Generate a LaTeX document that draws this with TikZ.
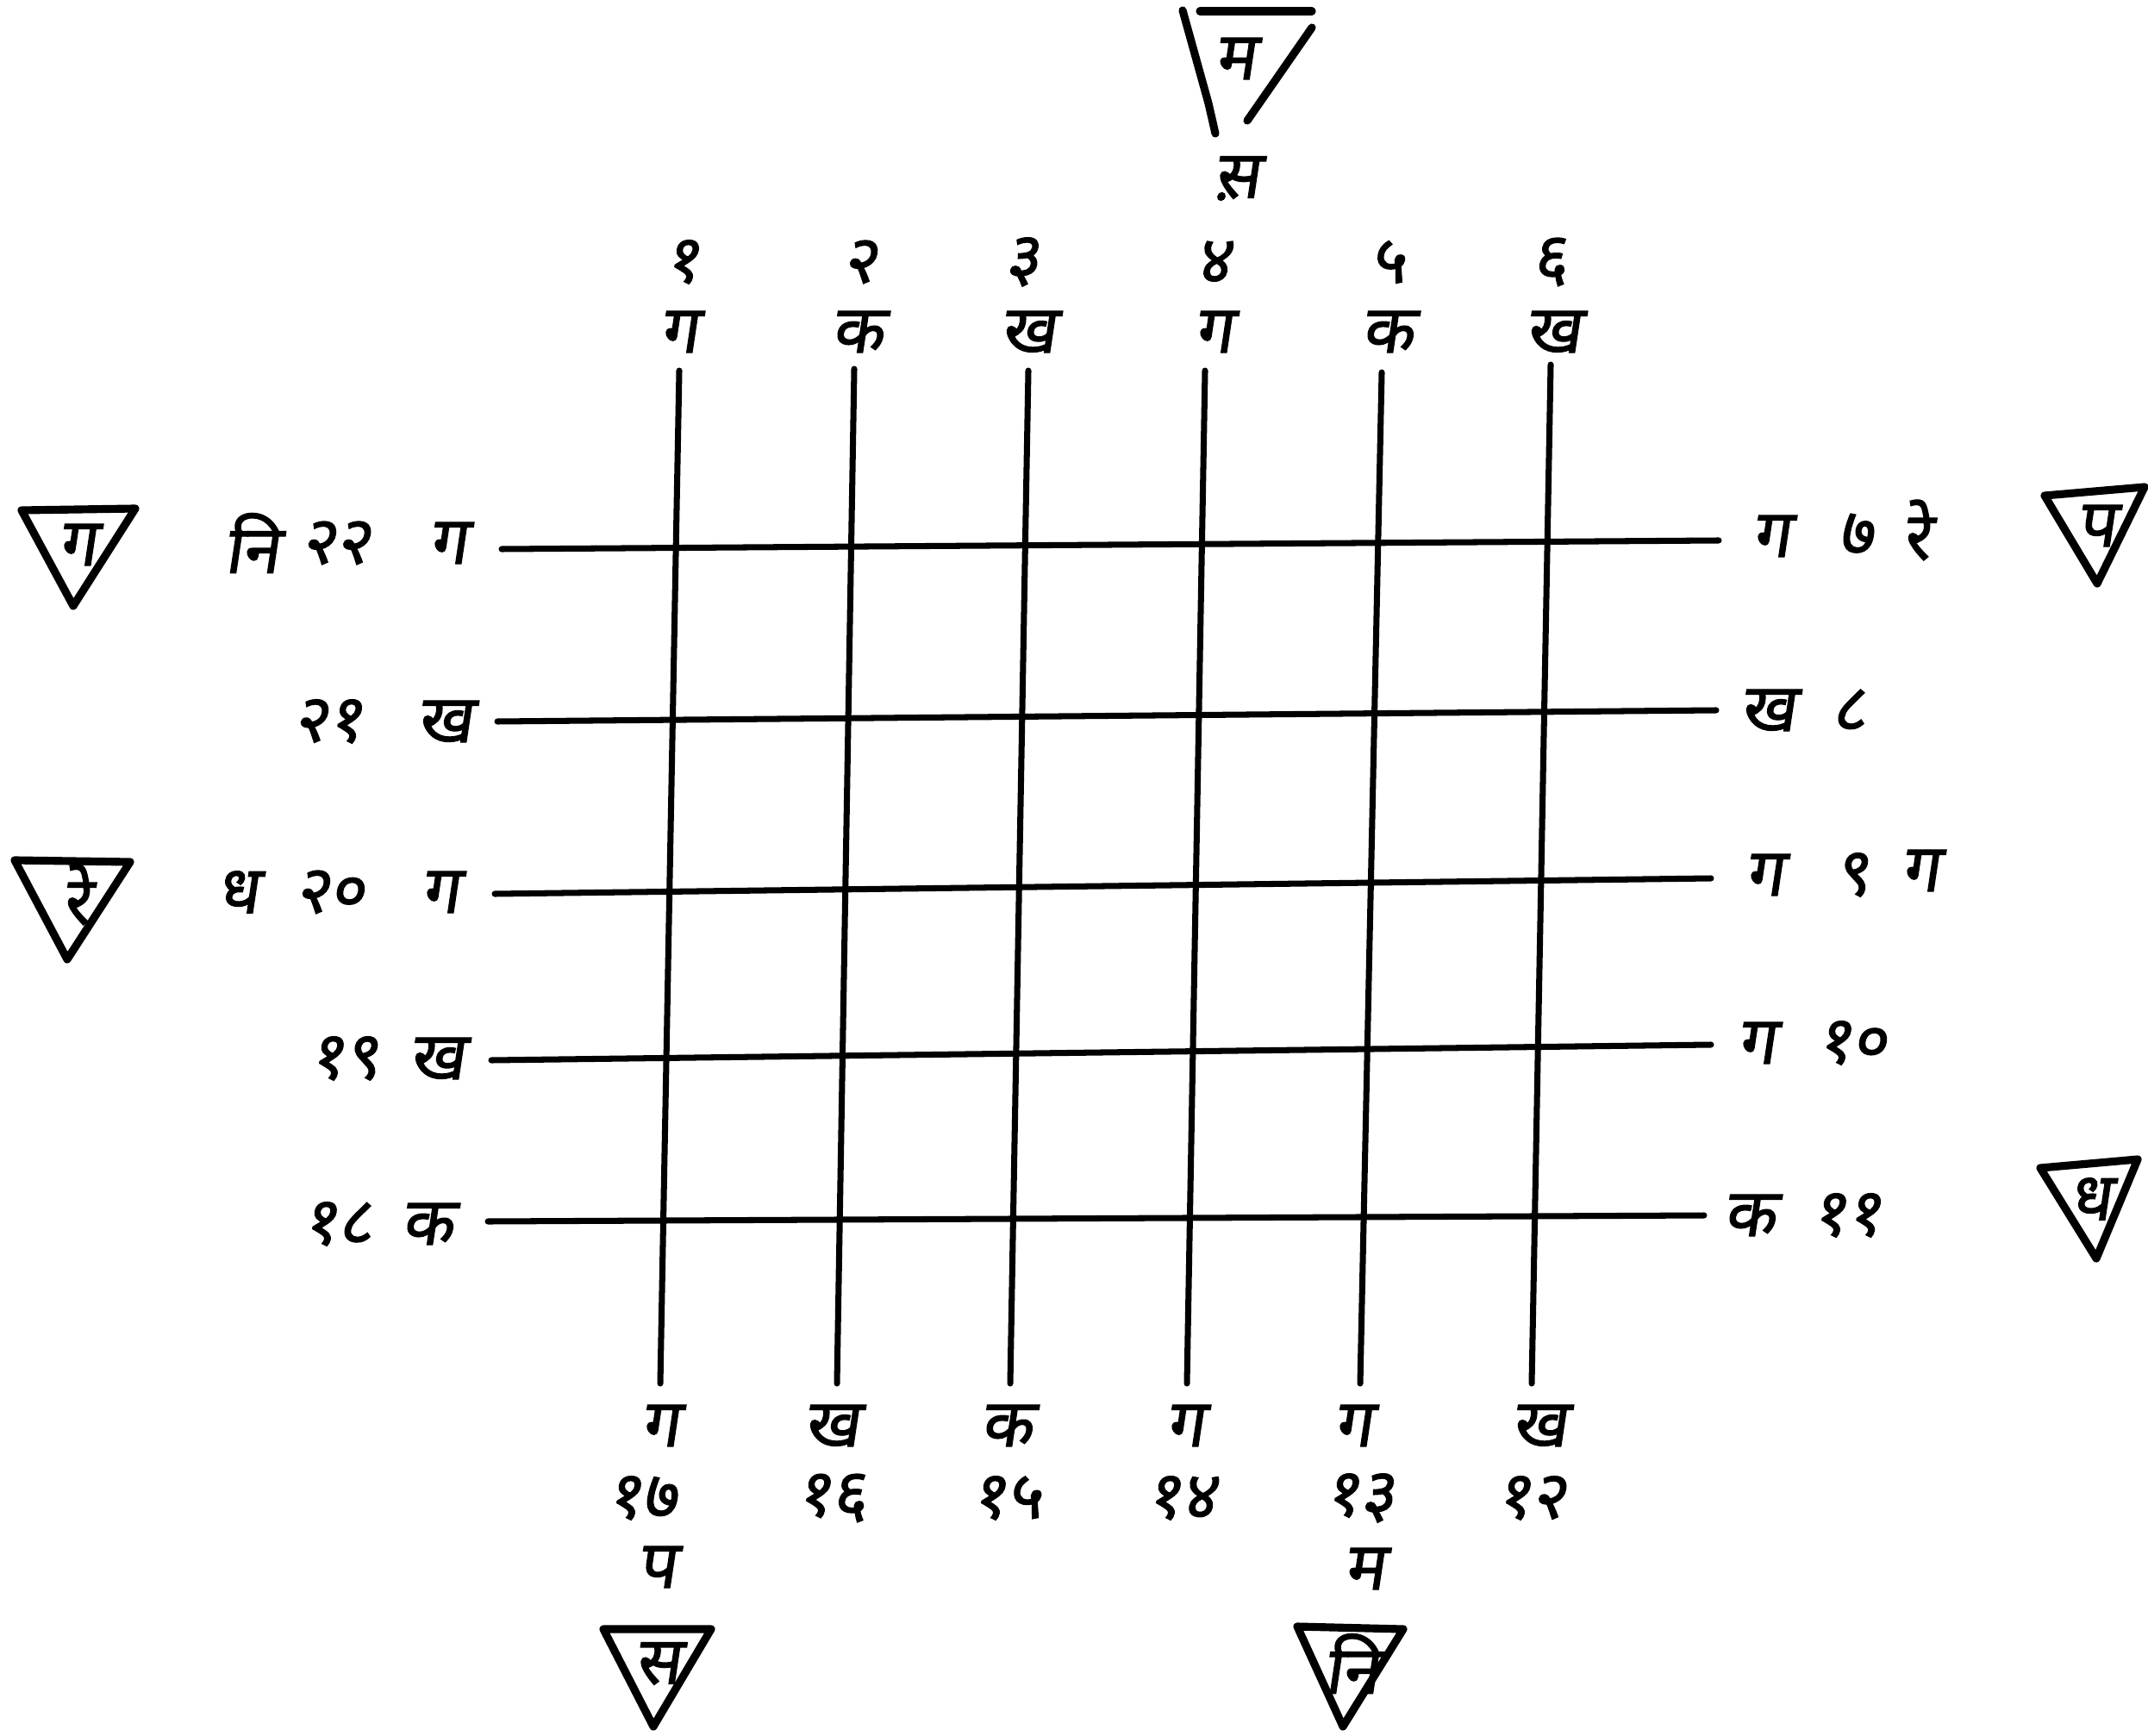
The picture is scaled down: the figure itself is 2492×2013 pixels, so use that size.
\documentclass[tikz,border=0pt]{standalone}
\usepackage{fontspec}
\newfontfamily\dev[Script=Devanagari,FakeSlant=0.15,FakeBold=1.6]{Noto Sans}
\begin{document}
\begin{tikzpicture}[x=0.01cm,y=-0.01cm,
  lbl/.style={font=\dev\fontsize{22}{26}\selectfont, inner sep=0pt},
  gridline/.style={line width=2pt, line cap=round},
  tri/.style={line width=2.6pt, line join=round, line cap=round}]
\useasboundingbox (0,0) rectangle (2492,2013);

% grid end points
\coordinate (t1) at (788,430);  \coordinate (b1) at (766,1605);
\coordinate (t2) at (991,428);  \coordinate (b2) at (971,1605);
\coordinate (t3) at (1193,430); \coordinate (b3) at (1172,1605);
\coordinate (t4) at (1398,430); \coordinate (b4) at (1377,1605);
\coordinate (t5) at (1603,432); \coordinate (b5) at (1578,1605);
\coordinate (t6) at (1799,423); \coordinate (b6) at (1777,1605);
\coordinate (l1) at (582,637);  \coordinate (r1) at (1994,627);
\coordinate (l2) at (577,837);  \coordinate (r2) at (1991,824);
\coordinate (l3) at (574,1037); \coordinate (r3) at (1985,1019);
\coordinate (l4) at (570,1230); \coordinate (r4) at (1985,1212);
\coordinate (l5) at (566,1417); \coordinate (r5) at (1977,1410);

\foreach \i in {1,...,6} \draw[gridline] (t\i) -- (b\i);
\foreach \i in {1,...,5} \draw[gridline] (l\i) -- (r\i);

% top labels
\node[lbl] (n1) at (792,304) {१};  \node[lbl] (g1) at (788,385) {ग};
\node[lbl] (n2) at (998,304) {२};  \node[lbl] (g2) at (995,385) {क};
\node[lbl] (n3) at (1186,304) {३}; \node[lbl] (g3) at (1193,385) {ख};
\node[lbl] (n4) at (1408,304) {४}; \node[lbl] (g4) at (1408,385) {ग};
\node[lbl] (n5) at (1610,304) {५}; \node[lbl] (g5) at (1610,385) {क};
\node[lbl] (n6) at (1798,304) {६}; \node[lbl] (g6) at (1802,385) {ख};

% bottom labels
\node[lbl] (bg1) at (766,1654) {ग};  \node[lbl] (bn1) at (745,1738) {१७};
\node[lbl] (bg2) at (965,1654) {ख};  \node[lbl] (bn2) at (965,1738) {१६};
\node[lbl] (bg3) at (1168,1654) {क}; \node[lbl] (bn3) at (1168,1738) {१५};
\node[lbl] (bg4) at (1375,1654) {ग}; \node[lbl] (bn4) at (1371,1738) {१४};
\node[lbl] (bg5) at (1570,1654) {ग}; \node[lbl] (bn5) at (1578,1738) {१३};
\node[lbl] (bg6) at (1786,1654) {ख}; \node[lbl] (bn6) at (1777,1738) {१२};
\node[lbl] (bp) at (762,1818) {प};
\node[lbl] (bm) at (1583,1820) {म};

% left labels
\node[lbl] (ln1a) at (292,630) {नि}; \node[lbl] (ln1b) at (390,630) {२२}; \node[lbl] (ll1) at (520,630) {ग};
\node[lbl] (ln2) at (381,837) {२१};  \node[lbl] (ll2) at (516,837) {ख};
\node[lbl] (ln3a) at (276,1035) {ध}; \node[lbl] (ln3b) at (383,1035) {२०}; \node[lbl] (ll3) at (511,1035) {ग};
\node[lbl] (ln4) at (400,1228) {१९}; \node[lbl] (ll4) at (507,1228) {ख};
\node[lbl] (ln5) at (392,1420) {१८}; \node[lbl] (ll5) at (496,1420) {क};

% right labels
\node[lbl] (rl1) at (2055,622) {ग}; \node[lbl] (rn1) at (2153,620) {७}; \node[lbl] (rs1) at (2223,615) {रे};
\node[lbl] (rl2) at (2051,824) {ख}; \node[lbl] (rn2) at (2145,824) {८};
\node[lbl] (rl3) at (2047,1015) {ग}; \node[lbl] (rn3) at (2149,1015) {९}; \node[lbl] (rs3) at (2228,1010) {ग};
\node[lbl] (rl4) at (2038,1210) {ग}; \node[lbl] (rn4) at (2149,1210) {१०};
\node[lbl] (rl5) at (2030,1410) {क}; \node[lbl] (rn5) at (2143,1410) {११};

% triangles
\draw[tri] (25,592) -- (157,590) -- (85,703) -- cycle;
\node[lbl] (tg) at (90,632) {ग};
\draw[tri] (17,998) -- (151,1000) -- (78,1113) -- cycle;
\node[lbl] (tre) at (88,1038) {रे};
\draw[tri] (2372,575) -- (2488,565) -- (2433,677) -- cycle;
\node[lbl] (tp) at (2432,610) {प};
\draw[tri] (2367,1355) -- (2480,1345) -- (2432,1460) -- cycle;
\node[lbl] (tdh) at (2425,1391) {ध};
\draw[tri] (700,1890) -- (825,1890) -- (758,2003) -- cycle;
\node[lbl] (ts) at (763,1930) {स};
\draw[tri] (1505,1887) -- (1628,1890) -- (1558,2003) -- cycle;
\node[lbl] (tni) at (1568,1930) {नि};

% top open triangle
\draw[tri] (1392,13) -- (1522,13);
\draw[tri] (1372,12) -- (1402,120) -- (1410,155);
\draw[tri] (1522,32) -- (1447,140);
\node[lbl] (tm) at (1433,68) {म};
\node[lbl] (ts2) at (1435,207) {स़};
\end{tikzpicture}
\end{document}
